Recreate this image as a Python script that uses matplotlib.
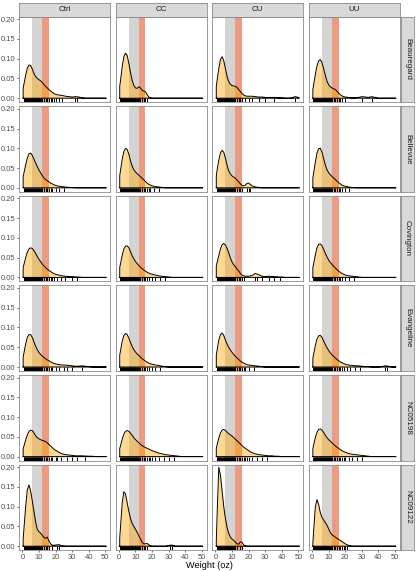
import numpy as np
import matplotlib
matplotlib.use("Agg")
import matplotlib.pyplot as plt
from matplotlib.transforms import blended_transform_factory

plt.rcParams['font.family'] = ['Liberation Sans', 'DejaVu Sans']

# ---------------- data ----------------
treatments = ["Ctrl", "CC", "CU", "UU"]
cultivars = ["Beauregard", "Bellevue", "Covington", "Evangeline", "NC05198", "NC09122"]

dens_x = [0.5, 1, 2, 3, 4, 5, 6, 7, 8, 9, 10, 11, 12, 13, 14, 15, 16, 17, 18, 19, 20,
          22, 24, 26, 28, 30, 32, 34, 36, 38, 40, 42, 44, 46, 48, 50, 50.5]

# density estimates (one value per dens_x)
beauregard_ctrl = [0.026, 0.036, 0.058, 0.076, 0.084, 0.083, 0.074, 0.063, 0.055, 0.050, 0.047, 0.044, 0.040, 0.035, 0.030, 0.026, 0.022, 0.018, 0.015, 0.012, 0.010,
                   0.008, 0.007, 0.005, 0.004, 0.003, 0.004, 0.003, 0.001, 0, 0, 0, 0, 0, 0, 0, 0]
beauregard_cc = [0.030, 0.045, 0.080, 0.105, 0.114, 0.108, 0.088, 0.065, 0.045, 0.032, 0.026, 0.025, 0.029, 0.026, 0.020, 0.018, 0.016, 0.009, 0.003, 0.001, 0,
                 0, 0, 0, 0, 0, 0, 0, 0, 0, 0, 0, 0, 0, 0, 0, 0]
beauregard_cu = [0.030, 0.045, 0.075, 0.098, 0.105, 0.095, 0.075, 0.055, 0.042, 0.035, 0.032, 0.031, 0.030, 0.027, 0.022, 0.017, 0.012, 0.008, 0.006, 0.005, 0.005,
                 0.005, 0.004, 0.003, 0.003, 0.002, 0.002, 0.002, 0.002, 0.001, 0.001, 0, 0, 0.001, 0.004, 0.002, 0.001]
beauregard_uu = [0.022, 0.035, 0.060, 0.082, 0.095, 0.098, 0.090, 0.075, 0.058, 0.043, 0.034, 0.029, 0.026, 0.024, 0.022, 0.018, 0.013, 0.009, 0.006, 0.004, 0.003,
                 0.002, 0.001, 0.001, 0.002, 0.004, 0.003, 0.002, 0.004, 0.002, 0, 0, 0, 0, 0, 0, 0]

bellevue_ctrl = [0.028, 0.038, 0.058, 0.075, 0.086, 0.088, 0.082, 0.073, 0.063, 0.054, 0.045, 0.038, 0.031, 0.025, 0.021, 0.018, 0.015, 0.012, 0.010, 0.008, 0.006,
                 0.004, 0.003, 0.002, 0.001, 0.001, 0, 0, 0, 0, 0, 0, 0, 0, 0, 0, 0]
bellevue_cc = [0.030, 0.045, 0.072, 0.092, 0.100, 0.097, 0.085, 0.068, 0.055, 0.046, 0.040, 0.036, 0.032, 0.028, 0.024, 0.020, 0.016, 0.012, 0.009, 0.007, 0.005,
               0.003, 0.002, 0.001, 0, 0, 0, 0, 0, 0, 0, 0, 0, 0, 0, 0, 0]
bellevue_cu = [0.030, 0.045, 0.070, 0.088, 0.095, 0.090, 0.075, 0.057, 0.043, 0.035, 0.030, 0.027, 0.024, 0.020, 0.015, 0.010, 0.006, 0.005, 0.007, 0.011, 0.012,
               0.005, 0.002, 0.001, 0, 0, 0, 0, 0, 0, 0, 0, 0, 0, 0, 0, 0]
bellevue_uu = [0.025, 0.038, 0.065, 0.088, 0.099, 0.100, 0.090, 0.074, 0.058, 0.046, 0.038, 0.033, 0.029, 0.025, 0.021, 0.017, 0.013, 0.010, 0.007, 0.005, 0.004,
               0.002, 0.001, 0, 0, 0, 0, 0, 0, 0, 0, 0, 0, 0, 0, 0, 0]

covington_ctrl = [0.025, 0.033, 0.050, 0.064, 0.072, 0.075, 0.073, 0.068, 0.061, 0.053, 0.046, 0.040, 0.034, 0.029, 0.025, 0.021, 0.018, 0.015, 0.012, 0.010, 0.008,
                  0.006, 0.004, 0.003, 0.002, 0.002, 0.001, 0.001, 0, 0, 0, 0, 0, 0, 0, 0, 0]
covington_cc = [0.025, 0.035, 0.056, 0.072, 0.079, 0.080, 0.075, 0.065, 0.055, 0.047, 0.040, 0.035, 0.030, 0.026, 0.022, 0.019, 0.016, 0.013, 0.011, 0.009, 0.008,
                0.006, 0.004, 0.003, 0.002, 0.001, 0, 0, 0, 0, 0, 0, 0, 0, 0, 0, 0]
covington_cu = [0.029, 0.038, 0.055, 0.072, 0.083, 0.086, 0.082, 0.073, 0.062, 0.049, 0.039, 0.032, 0.027, 0.021, 0.016, 0.010, 0.006, 0.004, 0.003, 0.003, 0.003,
                0.005, 0.010, 0.007, 0.003, 0.002, 0.003, 0.002, 0.002, 0.001, 0.001, 0, 0, 0, 0, 0, 0]
covington_uu = [0.025, 0.035, 0.057, 0.075, 0.084, 0.085, 0.080, 0.071, 0.061, 0.052, 0.044, 0.038, 0.033, 0.028, 0.024, 0.020, 0.016, 0.013, 0.010, 0.008, 0.006,
                0.004, 0.003, 0.002, 0.001, 0, 0, 0, 0, 0, 0, 0, 0, 0, 0, 0, 0]

evangeline_ctrl = [0.025, 0.036, 0.058, 0.075, 0.082, 0.082, 0.075, 0.064, 0.053, 0.044, 0.037, 0.032, 0.028, 0.024, 0.021, 0.018, 0.016, 0.013, 0.011, 0.009, 0.008,
                   0.006, 0.005, 0.005, 0.004, 0.003, 0.002, 0.002, 0.003, 0.002, 0.001, 0, 0, 0, 0, 0, 0]
evangeline_cc = [0.030, 0.042, 0.065, 0.080, 0.085, 0.082, 0.073, 0.062, 0.052, 0.044, 0.038, 0.033, 0.029, 0.025, 0.021, 0.018, 0.015, 0.012, 0.010, 0.008, 0.007,
                 0.005, 0.004, 0.002, 0.001, 0, 0, 0, 0, 0, 0, 0, 0, 0, 0, 0, 0]
evangeline_cu = [0.030, 0.043, 0.068, 0.082, 0.086, 0.080, 0.068, 0.058, 0.050, 0.043, 0.037, 0.032, 0.027, 0.023, 0.019, 0.015, 0.012, 0.010, 0.008, 0.006, 0.005,
                 0.004, 0.003, 0.002, 0.001, 0, 0, 0, 0, 0, 0, 0, 0, 0, 0, 0, 0]
evangeline_uu = [0.022, 0.033, 0.055, 0.071, 0.079, 0.080, 0.075, 0.066, 0.057, 0.049, 0.042, 0.036, 0.031, 0.027, 0.023, 0.019, 0.016, 0.013, 0.011, 0.009, 0.007,
                 0.005, 0.004, 0.003, 0.003, 0.002, 0.001, 0.001, 0, 0, 0, 0.001, 0.003, 0.002, 0, 0, 0]

nc05198_ctrl = [0.020, 0.027, 0.042, 0.055, 0.064, 0.067, 0.066, 0.060, 0.053, 0.048, 0.045, 0.043, 0.041, 0.040, 0.038, 0.035, 0.031, 0.027, 0.023, 0.019, 0.016,
                0.011, 0.007, 0.005, 0.004, 0.003, 0.002, 0.002, 0.002, 0.0015, 0.001, 0.001, 0, 0, 0, 0, 0]
nc05198_cc = [0.020, 0.028, 0.044, 0.057, 0.064, 0.066, 0.064, 0.059, 0.054, 0.048, 0.043, 0.039, 0.035, 0.031, 0.028, 0.025, 0.023, 0.021, 0.019, 0.017, 0.015,
              0.012, 0.009, 0.007, 0.005, 0.004, 0.003, 0.002, 0.001, 0, 0, 0, 0, 0, 0, 0, 0]
nc05198_cu = [0.020, 0.030, 0.047, 0.060, 0.067, 0.069, 0.066, 0.062, 0.058, 0.055, 0.052, 0.048, 0.044, 0.040, 0.036, 0.032, 0.028, 0.024, 0.021, 0.018, 0.015,
              0.010, 0.007, 0.005, 0.004, 0.003, 0.002, 0.002, 0.001, 0.001, 0, 0, 0, 0, 0, 0, 0]
nc05198_uu = [0.020, 0.030, 0.048, 0.062, 0.069, 0.070, 0.067, 0.061, 0.054, 0.048, 0.043, 0.039, 0.035, 0.031, 0.027, 0.024, 0.021, 0.018, 0.015, 0.013, 0.011,
              0.008, 0.006, 0.005, 0.004, 0.003, 0.002, 0.001, 0, 0, 0, 0, 0, 0, 0, 0, 0]

nc09122_ctrl = [0.018, 0.045, 0.100, 0.142, 0.155, 0.140, 0.115, 0.088, 0.062, 0.043, 0.037, 0.033, 0.028, 0.022, 0.020, 0.023, 0.014, 0.006, 0.003, 0.002, 0.003,
                0.004, 0.001, 0, 0, 0, 0, 0, 0, 0, 0, 0, 0, 0, 0, 0, 0]
nc09122_cc = [0.020, 0.050, 0.110, 0.138, 0.132, 0.110, 0.088, 0.070, 0.058, 0.050, 0.043, 0.035, 0.027, 0.018, 0.010, 0.006, 0.006, 0.007, 0.004, 0.001, 0,
              0, 0, 0, 0, 0.002, 0.003, 0, 0, 0, 0, 0, 0, 0, 0, 0, 0]
nc09122_cu = [0.013, 0.080, 0.200, 0.180, 0.140, 0.100, 0.070, 0.047, 0.032, 0.023, 0.018, 0.015, 0.010, 0.006, 0.005, 0.011, 0.010, 0.003, 0.001, 0, 0,
              0, 0, 0, 0, 0, 0, 0, 0, 0, 0, 0, 0, 0, 0, 0, 0]
nc09122_uu = [0.009, 0.040, 0.100, 0.118, 0.105, 0.085, 0.073, 0.066, 0.060, 0.053, 0.044, 0.035, 0.029, 0.026, 0.023, 0.020, 0.017, 0.015, 0.012, 0.009, 0.006,
              0.002, 0, 0, 0, 0, 0, 0, 0, 0, 0, 0, 0, 0, 0, 0, 0]

# rug: weights shared by every panel plus the sparse tail of each panel
rug_core = [0.8, 1.1, 1.4, 1.7, 2, 2.3, 2.6, 2.9, 3.2, 3.5, 3.8, 4.1, 4.4, 4.7, 5, 5.3, 5.6,
            5.9, 6.2, 6.5, 6.8, 7.1, 7.4, 7.7, 8, 8.3, 8.6, 8.9, 9.2, 9.5, 9.8, 10.1,
            10.4, 10.7, 11, 11.3, 11.6, 12]
rug_beauregard = [[13, 14, 15, 16, 17, 18, 19, 20, 22, 24, 32, 33],
                  [13, 14, 15, 16, 17],
                  [13, 14, 15, 16, 18, 20, 22, 26, 30, 35, 48],
                  [13, 14, 15, 16, 17, 18, 20, 30, 36]]
rug_bellevue = [[13, 14, 15, 16, 17, 18, 20, 22, 25],
                [13, 14, 15, 16, 17, 18, 19, 21, 24],
                [13, 14, 15, 16, 19, 20, 21],
                [13, 14, 15, 16, 17, 18, 20, 22]]
rug_covington = [[13, 14, 15, 16, 17, 18, 19, 21, 23, 26, 30, 33],
                 [13, 14, 15, 16, 17, 18, 20, 22, 25, 28],
                 [13, 14, 15, 16, 17, 24, 25, 28, 32, 35, 39],
                 [13, 14, 15, 16, 17, 18, 20, 22, 25]]
rug_evangeline = [[13, 14, 15, 16, 17, 18, 20, 22, 25, 27, 30, 36],
                  [13, 14, 15, 16, 17, 18, 20, 22, 25],
                  [13, 14, 15, 16, 17, 18, 20, 23],
                  [13, 14, 15, 16, 17, 18, 19, 21, 23, 26, 29, 44, 45]]
rug_nc05198 = [[13, 14, 15, 16, 17, 18, 20, 21, 23, 27, 30, 33, 38],
               [13, 14, 15, 16, 17, 18, 19, 20, 22, 24, 27, 30, 33],
               [13, 14, 15, 16, 17, 18, 19, 20, 22, 25, 28, 31],
               [13, 14, 15, 16, 17, 18, 19, 20, 22, 24, 27, 30]]
rug_nc09122 = [[13, 14, 15, 16, 18, 21, 22],
               [13, 14, 15, 16, 17, 31, 32],
               [13, 15, 16],
               [13, 14, 15, 16, 17, 18, 19, 20, 21]]

band_gray = [6, 12]
band_red = [12, 16]
x_ticks = [0, 10, 20, 30, 40, 50]
y_ticks = [0.00, 0.05, 0.10, 0.15, 0.20]

densities = [
    [beauregard_ctrl, beauregard_cc, beauregard_cu, beauregard_uu],
    [bellevue_ctrl, bellevue_cc, bellevue_cu, bellevue_uu],
    [covington_ctrl, covington_cc, covington_cu, covington_uu],
    [evangeline_ctrl, evangeline_cc, evangeline_cu, evangeline_uu],
    [nc05198_ctrl, nc05198_cc, nc05198_cu, nc05198_uu],
    [nc09122_ctrl, nc09122_cc, nc09122_cu, nc09122_uu],
]
rugs = [rug_beauregard, rug_bellevue, rug_covington, rug_evangeline, rug_nc05198, rug_nc09122]

# ---------------- layout ----------------
W, H = 416, 571
fig = plt.figure(figsize=(W / 100, H / 100), dpi=100)
left0, pw, gx = 19.0, 91.3, 5.27
top0, ph, gy = 16.5, 85.6, 4.0
strip_h = 13.5
border = '#8a8a8a'
strip_fill = '#D9D9D9'

xs = np.array(dens_x)
for r, cult in enumerate(cultivars):
    for c, trt in enumerate(treatments):
        x0 = left0 + c * (pw + gx)
        yt = top0 + r * (ph + gy)
        ax = fig.add_axes([x0 / W, 1 - (yt + ph) / H, pw / W, ph / H])
        ys = np.array(densities[r][c])
        ax.axvspan(band_gray[0], band_gray[1], color='#D4D4D4', lw=0, zorder=0.5)
        ax.axvspan(band_red[0], band_red[1], color='#EC9A80', lw=0, zorder=0.6)
        ax.fill_between(xs, ys, 0, color='orange', alpha=0.42, lw=0, zorder=1)
        ox = np.r_[xs[0], xs, xs[-1], xs[0]]
        oy = np.r_[0, ys, 0, 0]
        ax.plot(ox, oy, color='black', lw=0.7, zorder=2, solid_joinstyle='round')
        trans = blended_transform_factory(ax.transData, ax.transAxes)
        vals = rug_core + rugs[r][c]
        ax.vlines(vals, 0, 0.045, transform=trans, color='black', lw=0.7, zorder=3)
        ax.set_xlim(-2, 53)
        ax.set_ylim(-0.00985, 0.2068)
        ax.set_xticks(x_ticks)
        ax.set_yticks(y_ticks)
        ax.set_yticklabels([f"{v:.2f}" for v in y_ticks])
        for s in ax.spines.values():
            s.set_color(border)
            s.set_linewidth(0.6)
        ax.tick_params(length=1.6, width=0.5, color='#333333', labelsize=5.4,
                       labelcolor='#4D4D4D', pad=1)
        if c > 0:
            ax.tick_params(left=False, labelleft=False)
        if r < len(cultivars) - 1:
            ax.tick_params(bottom=False, labelbottom=False)
        # top strips
        if r == 0:
            sax = fig.add_axes([x0 / W, 1 - top0 / H, pw / W, strip_h / H])
            sax.set_facecolor(strip_fill)
            sax.set_xticks([]); sax.set_yticks([])
            for s in sax.spines.values():
                s.set_color(border); s.set_linewidth(0.6)
            sax.text(0.5, 0.5, trt, ha='center', va='center', fontsize=5.8,
                     color='#1A1A1A', transform=sax.transAxes)
        # right strips
        if c == len(treatments) - 1:
            rx = x0 + pw + 1.2
            sax = fig.add_axes([rx / W, 1 - (yt + ph) / H, 12.8 / W, ph / H])
            sax.set_facecolor(strip_fill)
            sax.set_xticks([]); sax.set_yticks([])
            for s in sax.spines.values():
                s.set_color(border); s.set_linewidth(0.6)
            sax.text(0.5, 0.5, cult, ha='center', va='center', fontsize=5.8,
                     color='#1A1A1A', rotation=-90, transform=sax.transAxes)

fig.text((left0 + (left0 + 4 * pw + 3 * gx)) / 2 / W, 1 - 565.5 / H, "Weight (oz)",
         ha='center', va='center', fontsize=6.6, color='black')

fig.savefig("out.png", dpi=100)
